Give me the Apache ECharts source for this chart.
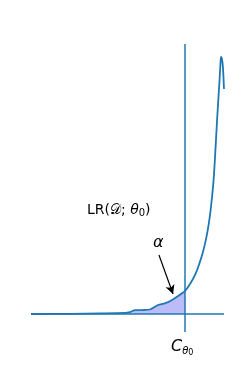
<!DOCTYPE html>
<html><head><meta charset="utf-8">
<script src="https://cdn.jsdelivr.net/npm/echarts@6/dist/echarts.min.js"></script>
<style>html,body{margin:0;padding:0;background:#fff}#c{width:249px;height:374px}</style>
</head><body><div id="c"></div>
<script>
var xs = [0, 2.02, 3.58, 4.87, 5.13, 5.39, 5.75, 6.17, 6.58, 6.94, 7.31, 7.62, 7.98, 8.24, 8.50, 8.70, 8.91, 9.07, 9.20, 9.30, 9.38, 9.46, 9.52, 9.57, 9.65, 9.76, 9.81, 9.84, 9.88, 9.94, 10];
var ys = [0, 0.01, 0.03, 0.06, 0.11, 0.21, 0.22, 0.25, 0.5, 0.59, 0.78, 1.0, 1.29, 1.67, 2.17, 2.72, 3.44, 4.17, 4.94, 5.72, 6.5, 7.44, 8.44, 9.39, 10.94, 12.83, 13.78, 14.28, 14.22, 13.78, 12.5];
var criticalX = 7.98;
var arrowFrom = [6.63, 3.28];
var arrowTo = [7.36, 1.11];

var curve = xs.map(function(x, i){ return [x, ys[i]]; });
var fill = curve.filter(function(p){ return p[0] <= criticalX; });

var chart = echarts.init(document.getElementById('c'));
var fontFam = 'DejaVu Sans';
chart.setOption({
  animation: false,
  grid: {left: 31, right: 25, top: 44, bottom: 42},
  xAxis: {type: 'value', min: 0, max: 10, show: false},
  yAxis: {type: 'value', min: -1, max: 15, show: false},
  series: [
    {type: 'line', data: fill, symbol: 'none', smooth: 0.25, lineStyle: {width: 0}, areaStyle: {color: '#bcbcf8', opacity: 1}, z: 1},
    {type: 'line', data: curve, symbol: 'none', smooth: 0.25, lineStyle: {color: '#1f77b4', width: 1.8}, z: 3,
      markLine: {
        silent: true, symbol: 'none', animation: false,
        lineStyle: {color: '#1f77b4', width: 1.5, type: 'solid'},
        label: {show: false},
        data: [
          {xAxis: criticalX},
          {yAxis: 0}
        ]
      }
    },
    {type: 'line', data: [], z: 4,
      markLine: {
        silent: true, animation: false, symbol: ['none', 'arrow'], symbolSize: [7, 9],
        lineStyle: {color: '#000', width: 1.2, type: 'solid'},
        label: {show: false},
        data: [[{coord: arrowFrom}, {coord: arrowTo}]]
      }
    }
  ],
  graphic: [
    {type: 'text', left: 87, top: 203, style: {
      text: '{n|LR(}{d|𝒟}{n|; }{i|θ}{s|0}{n|)}',
      rich: {
        n: {fontFamily: fontFam, fontSize: 14, fill: '#000'},
        d: {fontFamily: fontFam, fontSize: 14, fill: '#000'},
        i: {fontFamily: fontFam, fontSize: 14, fontStyle: 'italic', fill: '#000'},
        s: {fontFamily: fontFam, fontSize: 10, fill: '#000', padding: [6, 0, 0, 0]}
      }
    }},
    {type: 'text', left: 153, top: 235, style: {text: 'α', fontFamily: fontFam, fontSize: 16, fontStyle: 'italic', fill: '#000'}},
    {type: 'text', left: 171, top: 339, style: {
      text: '{c|C}{s|θ}{z|0}',
      rich: {
        c: {fontFamily: fontFam, fontSize: 16, fontStyle: 'italic', fill: '#000'},
        s: {fontFamily: fontFam, fontSize: 10, fontStyle: 'italic', fill: '#000', padding: [8, 0, 0, 0]},
        z: {fontFamily: fontFam, fontSize: 8, fill: '#000', padding: [12, 0, 0, 0]}
      }
    }}
  ]
});
</script></body></html>
